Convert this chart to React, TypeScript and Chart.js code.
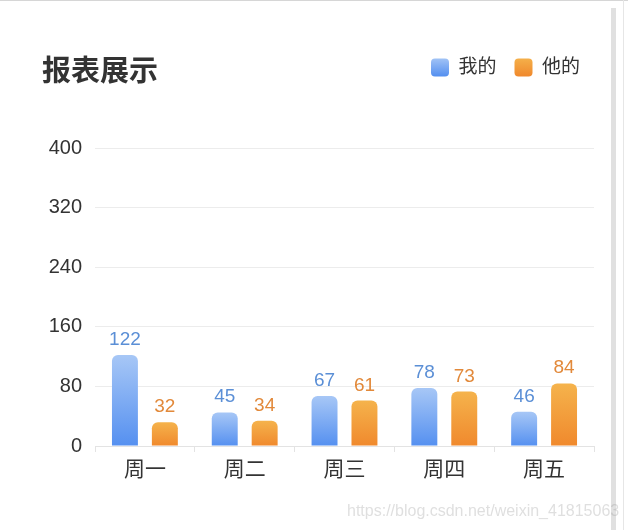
import React, { useEffect, useRef } from "react";
import { Chart, registerables } from "chart.js";

Chart.register(...registerables);

const categories = ["周一", "周二", "周三", "周四", "周五"];
const seriesNames = ["我的", "他的"];
const mineValues = [122, 45, 67, 78, 46];
const hisValues = [32, 34, 61, 73, 84];
const yTickValues = [0, 80, 160, 240, 320, 400];

const FONT = "'Liberation Sans', 'Noto Sans CJK SC', sans-serif";
const BLUE_TOP = "#a7c7f6";
const BLUE_BOTTOM = "#5590f0";
const ORANGE_TOP = "#f5b34c";
const ORANGE_BOTTOM = "#f0892d";
const LABEL_COLORS = ["#5b8fd6", "#e2893a"];

function barGradient(top: string, bottom: string) {
  return (ctx: any) => {
    const chart = ctx.chart;
    const area = chart.chartArea;
    if (!area || ctx.type !== "data" || !chart.scales.y) return bottom;
    const ys = chart.scales.y;
    const y0 = ys.getPixelForValue(0);
    const y1 = ys.getPixelForValue(ctx.raw as number);
    if (!isFinite(y1) || !isFinite(y0) || y0 === y1) return bottom;
    const g = chart.ctx.createLinearGradient(0, y1, 0, y0);
    g.addColorStop(0, top);
    g.addColorStop(1, bottom);
    return g;
  };
}

const valueLabels = {
  id: "valueLabels",
  afterDatasetsDraw(chart: any) {
    const ctx = chart.ctx;
    ctx.save();
    ctx.font = `19px ${FONT}`;
    ctx.textAlign = "center";
    ctx.textBaseline = "alphabetic";
    chart.data.datasets.forEach((ds: any, i: number) => {
      const meta = chart.getDatasetMeta(i);
      ctx.fillStyle = LABEL_COLORS[i];
      meta.data.forEach((bar: any, j: number) => {
        ctx.fillText(String(ds.data[j]), bar.x, bar.y - 10);
      });
    });
    ctx.restore();
  },
};

export default function App() {
  const ref = useRef<HTMLCanvasElement | null>(null);

  useEffect(() => {
    if (!ref.current) return;
    Chart.defaults.font.family = FONT;
    const chart = new Chart(ref.current, {
      type: "bar",
      data: {
        labels: categories,
        datasets: [
          {
            label: seriesNames[0],
            data: mineValues,
            backgroundColor: barGradient(BLUE_TOP, BLUE_BOTTOM),
            borderRadius: 6,
            borderWidth: 0,
            categoryPercentage: 0.8,
            barPercentage: 0.65,
            xAxisID: "x",
            yAxisID: "y",
          },
          {
            label: seriesNames[1],
            data: hisValues,
            backgroundColor: barGradient(ORANGE_TOP, ORANGE_BOTTOM),
            borderRadius: 6,
            borderWidth: 0,
            categoryPercentage: 0.8,
            barPercentage: 0.65,
            xAxisID: "x",
            yAxisID: "y",
          },
        ],
      },
      options: {
        responsive: false,
        animation: false,
        devicePixelRatio: 1,
        layout: { padding: { top: 40, right: 12, left: 0, bottom: 0 } },
        plugins: {
          tooltip: { enabled: false },
          legend: {
            position: "top",
            align: "end",
            labels: {
              boxWidth: 18,
              boxHeight: 18,
              padding: 18,
              color: "#333",
              font: { size: 19, family: FONT },
              useBorderRadius: true,
              borderRadius: 4,
              generateLabels: (c: any) => {
                const tops = [BLUE_TOP, ORANGE_TOP];
                const bottoms = [BLUE_BOTTOM, ORANGE_BOTTOM];
                return seriesNames.map((name, i) => {
                  const g = c.ctx.createLinearGradient(0, 57, 0, 76);
                  g.addColorStop(0, tops[i]);
                  g.addColorStop(1, bottoms[i]);
                  return {
                    text: name,
                    fillStyle: g,
                    strokeStyle: "rgba(0,0,0,0)",
                    lineWidth: 0,
                    hidden: false,
                    datasetIndex: i,
                    borderRadius: 4,
                    fontColor: "#333",
                  };
                });
              },
            },
          },
        },
        scales: {
          x: {
            type: "category",
            position: "bottom",
            offset: true,
            grid: {
              display: true,
              offset: true,
              drawOnChartArea: false,
              drawTicks: true,
              tickLength: 6,
              color: "#e3e3e3",
            },
            border: { display: true, color: "#e3e3e3" },
            ticks: { color: "#333", font: { size: 21 }, padding: 6 },
            afterFit: (s: any) => {
              s.height = 84;
            },
          },
          xTopSpacer: {
            type: "linear",
            position: "top",
            min: 0,
            max: 1,
            display: true,
            grid: { display: false },
            border: { display: false },
            ticks: { display: false },
            afterFit: (s: any) => {
              s.height = 61;
            },
          },
          y: {
            type: "linear",
            position: "left",
            min: 0,
            max: 400,
            ticks: { stepSize: 80, color: "#333", font: { size: 20 }, padding: 13 },
            afterBuildTicks: (s: any) => {
              s.ticks = yTickValues.map((v) => ({ value: v }));
            },
            grid: { color: "#ececec", drawTicks: false },
            border: { display: false },
            afterFit: (s: any) => {
              s.width = 95;
            },
          },
          yRightSpacer: {
            type: "linear",
            position: "right",
            min: 0,
            max: 1,
            display: true,
            grid: { display: false },
            border: { display: false },
            ticks: { display: false },
            afterFit: (s: any) => {
              s.width = 4;
            },
          },
        },
      },
      plugins: [valueLabels],
    } as any);
    return () => chart.destroy();
  }, []);

  return (
    <div
      style={{
        position: "fixed",
        left: 0,
        top: 0,
        width: 628,
        height: 530,
        background: "#fff",
        overflow: "hidden",
        fontFamily: FONT,
      }}
    >
      <canvas
        ref={ref}
        width={610}
        height={530}
        style={{ position: "absolute", left: 0, top: 0, width: 610, height: 530 }}
      />
      <div
        style={{
          position: "absolute",
          left: 42,
          top: 57,
          fontSize: 29,
          lineHeight: "29px",
          fontWeight: 700,
          color: "#333",
          whiteSpace: "nowrap",
        }}
      >
        报表展示
      </div>
      <div style={{ position: "absolute", left: 0, top: 0, width: 628, height: 1, background: "#d6d6d6" }} />
      <div style={{ position: "absolute", left: 611, top: 8, width: 5, height: 522, background: "#e0e0e0" }} />
      <div style={{ position: "absolute", left: 623, top: 0, width: 1, height: 530, background: "#e6e6e6" }} />
      <div
        style={{
          position: "absolute",
          left: 347,
          top: 501,
          fontSize: 16,
          lineHeight: "20px",
          color: "rgba(150,150,150,0.3)",
          whiteSpace: "nowrap",
        }}
      >
        https://blog.csdn.net/weixin_41815063
      </div>
    </div>
  );
}
